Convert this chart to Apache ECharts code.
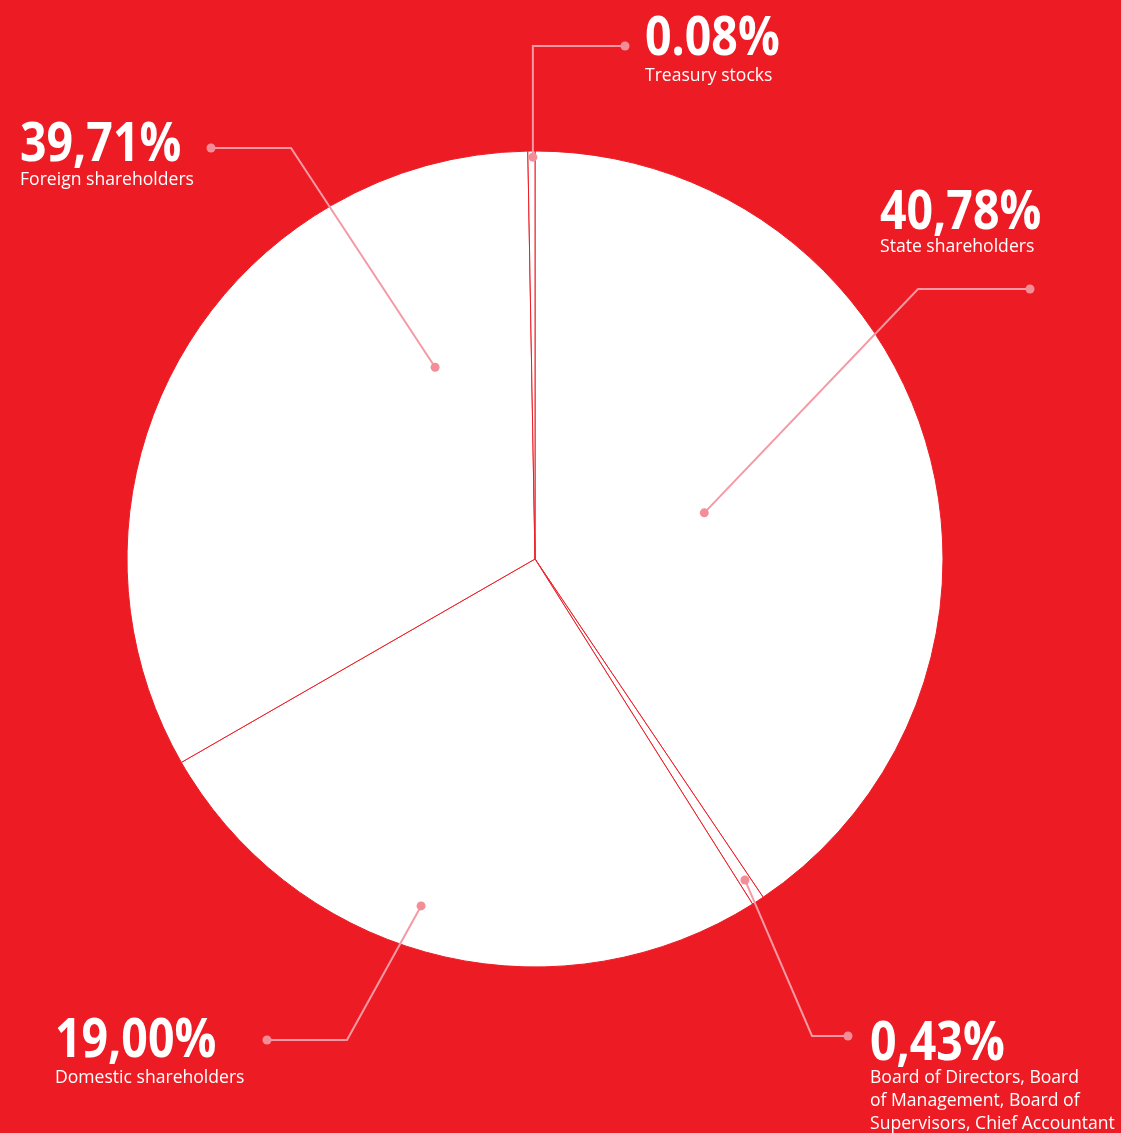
<!DOCTYPE html>
<html>
<head>
<meta charset="utf-8">
<style>
html,body{margin:0;padding:0;background:#ED1C24;}
#chart{width:1121px;height:1133px;}
</style>
<script src="https://cdn.jsdelivr.net/npm/echarts@6/dist/echarts.min.js"></script>
</head>
<body>
<div id="chart"></div>
<script>
// Categories, in drawing order (clockwise from 12 o'clock)
var categories = [
  'State shareholders',
  'Board of Directors, Board\nof Management, Board of\nSupervisors, Chief Accountant',
  'Domestic shareholders',
  'Foreign shareholders',
  'Treasury stocks'
];
// Percentages printed on the chart
var shareLabels = ['40,78%', '0,43%', '19,00%', '39,71%', '0.08%'];
// Slice sizes as drawn in the picture (share of the full circle, %)
var sliceValues = [40.56, 0.49, 25.65, 33.03, 0.28];

var CX = 535, CY = 559, R = 408;
var BG = '#ED1C24', LINE = '#F59AA4', DOT = '#F38E99';

// label styling: anchor (fraction across slice, fraction of radius), elbow, end,
// text left x, big-number middle y, first name-line middle y
var layouts = [
  {f: 0.512, rf: 0.43,  elbow: [918, 289],  end: [1030, 289], tx: 880, by: 213.5,  ny: 247},
  {f: 0.46,  rf: 0.94,  elbow: [812, 1036], end: [848, 1036], tx: 870, by: 1044.5, ny: 1078},
  {f: 0.546, rf: 0.895, elbow: [347, 1040], end: [267, 1040], tx: 55,  by: 1042,   ny: 1078},
  {f: 0.777, rf: 0.53,  elbow: [291, 148],  end: [211, 148],  tx: 20,  by: 145.5,  ny: 180},
  {f: 0.7,   rf: 0.985, elbow: null,        end: [625, 46],   tx: 645, by: 40,     ny: 75.5}
];
var BIG_FONT = 'bold 54px "Open Sans", "Liberation Sans", sans-serif';
var SMALL_FONT = '19px "Open Sans", "Liberation Sans", sans-serif';
var BIG_SX = 0.86, SMALL_SX = 0.925, NAME_LH = 22.8;

var total = sliceValues.reduce(function(a, b){ return a + b; }, 0);
var anchors = [];
(function(){
  var acc = 0;
  for (var i = 0; i < sliceValues.length; i++) {
    var a0 = acc / total * 360, a1 = (acc + sliceValues[i]) / total * 360;
    acc += sliceValues[i];
    var th = (a0 + (a1 - a0) * layouts[i].f) * Math.PI / 180;
    var r = R * layouts[i].rf;
    anchors.push([CX + r * Math.sin(th), CY - r * Math.cos(th)]);
  }
})();

var graphics = [];
categories.forEach(function(name, i){
  var a = anchors[i], L = layouts[i];
  var elbow = L.elbow ? L.elbow : [a[0], L.end[1]];
  graphics.push({type: 'polyline', z: 100, shape: {points: [a, elbow, L.end]},
    style: {stroke: LINE, lineWidth: 2, fill: null}});
  graphics.push({type: 'circle', z: 101, shape: {cx: a[0], cy: a[1], r: 4.5}, style: {fill: DOT}});
  graphics.push({type: 'circle', z: 101, shape: {cx: L.end[0], cy: L.end[1], r: 4.5}, style: {fill: DOT}});
  graphics.push({type: 'text', z: 102, x: L.tx, y: L.by, scaleX: BIG_SX,
    style: {text: shareLabels[i], x: 0, y: 0, font: BIG_FONT, fill: '#FFFFFF',
      textAlign: 'left', textVerticalAlign: 'middle', verticalAlign: 'middle'}});
  name.split('\n').forEach(function(line, k){
    graphics.push({type: 'text', z: 102, x: L.tx, y: L.ny + k * NAME_LH, scaleX: SMALL_SX,
      style: {text: line, x: 0, y: 0, font: SMALL_FONT, fill: '#FFFFFF',
        textAlign: 'left', textVerticalAlign: 'middle', verticalAlign: 'middle'}});
  });
});

var chart = echarts.init(document.getElementById('chart'), null, {renderer: 'canvas'});
chart.setOption({
  backgroundColor: BG,
  animation: false,
  graphic: graphics,
  series: [{
    type: 'pie',
    center: [CX, CY],
    radius: R,
    startAngle: 90,
    clockwise: true,
    minAngle: 0,
    avoidLabelOverlap: false,
    silent: true,
    itemStyle: {color: '#FFFFFF', borderColor: BG, borderWidth: 1},
    label: {show: false},
    labelLine: {show: false},
    data: categories.map(function(c, i){ return {name: c, value: sliceValues[i]}; })
  }]
});
</script>
</body>
</html>
